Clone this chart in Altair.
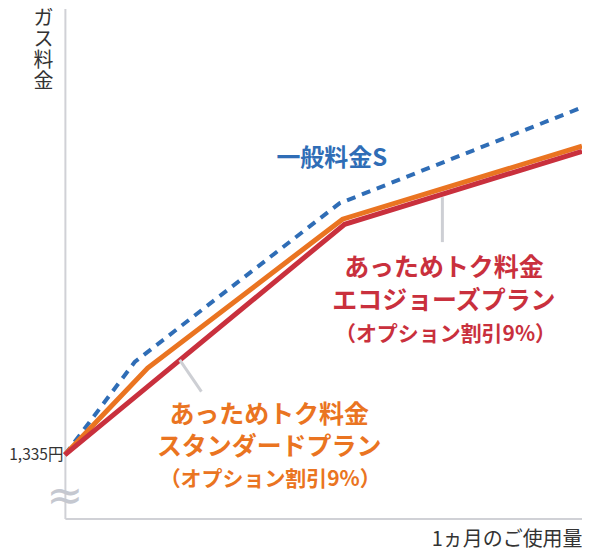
import pandas as pd
import altair as alt

# usage (0-100, share of the x axis) and cost (0-100, share of the y axis)
usage_general = [0, 13.5, 53.1, 100]
cost_general = [12.5, 30.7, 61.8, 80.6]

usage_standard = [0, 16.0, 53.7, 100]
cost_standard = [12.5, 29.5, 58.7, 73.0]

usage_ecojozu = [0, 54.1, 100]
cost_ecojozu = [12.5, 57.7, 72.0]

base_cost = 12.5
base_cost_label = '1,335円'

# annotation texts and where they sit (in the same data units)
label_text = ['一般料金S',
              'あっためトク料金', 'エコジョーズプラン', '（オプション割引9%）',
              'あっためトク料金', 'スタンダードプラン', '（オプション割引9%）']
label_x = [51.6, 73.3, 73.3, 73.6, 39.5, 39.5, 39.7]
label_y = [70.5, 49.1, 42.6, 36.0, 20.4, 14.0, 7.6]
label_color = ['#2f6db6', '#c9303d', '#c9303d', '#c9303d', '#ea7421', '#ea7421', '#ea7421']
label_size = [24, 25, 25, 21, 25, 25, 21]

leader_x = [73.0, 22.2]
leader_y = [63.0, 31.1]
leader_x2 = [73.0, 26.4]
leader_y2 = [54.2, 24.9]

FONT = 'Noto Sans CJK JP'

x_scale = alt.Scale(domain=[0, 100], nice=False, zero=False)
y_scale = alt.Scale(domain=[0, 100], nice=False, zero=False)

df_general = pd.DataFrame({'usage': usage_general, 'cost': cost_general})
df_standard = pd.DataFrame({'usage': usage_standard, 'cost': cost_standard})
df_ecojozu = pd.DataFrame({'usage': usage_ecojozu, 'cost': cost_ecojozu})
df_labels = pd.DataFrame({'text': label_text, 'x': label_x, 'y': label_y,
                          'color': label_color, 'size': label_size})
df_leaders = pd.DataFrame({'x': leader_x, 'y': leader_y, 'x2': leader_x2, 'y2': leader_y2})

x_axis = alt.Axis(title='1ヵ月のご使用量', labels=False, ticks=False, grid=False,
                  domainColor='#d0d1d6', domainWidth=2,
                  titleAnchor='end', titleFontSize=20, titleFontWeight='normal',
                  titleColor='#333333', titleFont=FONT, titlePadding=11)
y_axis = alt.Axis(title=['ガ', 'ス', '料', '金'], values=[base_cost],
                  labelExpr="'" + base_cost_label + "'",
                  ticks=False, tickSize=0, grid=False, labelPadding=2,
                  labelFontSize=15.5, labelColor='#333333', labelFont=FONT,
                  domainColor='#d0d1d6', domainWidth=2,
                  titleAngle=0, titleX=-22, titleY=0, titleAlign='center',
                  titleBaseline='top', titleFontSize=20, titleLineHeight=21,
                  titleFontWeight='normal', titleColor='#333333', titleFont=FONT)

general = alt.Chart(df_general).mark_line(
    color='#2f6db6', strokeWidth=4, strokeDash=[9, 7]
).encode(
    x=alt.X('usage:Q', scale=x_scale, axis=x_axis),
    y=alt.Y('cost:Q', scale=y_scale, axis=y_axis)
)

standard = alt.Chart(df_standard).mark_line(color='#ea7421', strokeWidth=5).encode(
    x=alt.X('usage:Q', scale=x_scale),
    y=alt.Y('cost:Q', scale=y_scale)
)

ecojozu = alt.Chart(df_ecojozu).mark_line(color='#c9303d', strokeWidth=5).encode(
    x=alt.X('usage:Q', scale=x_scale),
    y=alt.Y('cost:Q', scale=y_scale)
)

leaders = alt.Chart(df_leaders).mark_rule(color='#cdcfd4', strokeWidth=3).encode(
    x='x:Q', y='y:Q', x2='x2:Q', y2='y2:Q'
)

labels = alt.Chart(df_labels).mark_text(
    font=FONT, fontWeight='bold', align='center', baseline='middle'
).encode(
    x=alt.X('x:Q', scale=x_scale),
    y=alt.Y('y:Q', scale=y_scale),
    text='text:N',
    color=alt.Color('color:N', scale=None),
    size=alt.Size('size:Q', scale=None)
)

# the "≈" break mark on the y axis
axis_break = alt.Chart(pd.DataFrame({'x': [0], 'y': [4.3]})).mark_text(
    text='≈', font='DejaVu Sans', fontSize=44, color='#c5c8d0',
    align='center', baseline='middle'
).encode(x='x:Q', y='y:Q')

chart = alt.layer(general, standard, ecojozu, leaders, labels, axis_break).properties(
    width=518,
    height=511,
    autosize=alt.AutoSizeParams(type='none'),
    padding={'left': 57, 'top': 0, 'right': 0, 'bottom': 32}
).configure_view(
    strokeWidth=0
)

chart.save('out.html', embed_options={'renderer': 'svg', 'actions': False})
